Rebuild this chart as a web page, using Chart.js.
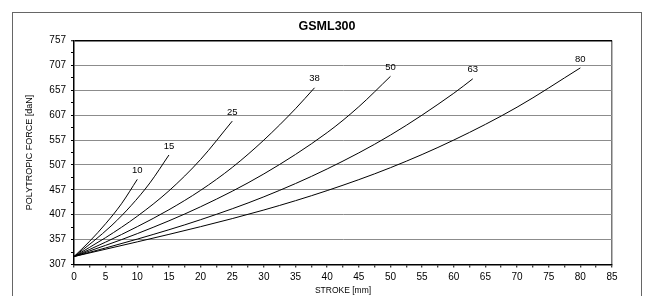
<!DOCTYPE html>
<html>
<head>
<meta charset="utf-8">
<script src="https://cdn.jsdelivr.net/npm/chart.js@4.4.1/dist/chart.umd.min.js"></script>
<style>
 body { margin:0; background:#fff; }
 #frame { position:absolute; left:12px; top:12px; width:628px; height:300px; border:1.5px solid #666; }
 #wrap { position:absolute; left:0; top:0; width:647px; height:296px; }
</style>
</head>
<body>
<div id="frame"></div>
<div id="wrap"><canvas id="myChart"></canvas></div>
<script>
 // curve names (written at the end of each curve)
 var curveNames = ["10", "15", "25", "38", "50", "63", "80"];

 // stroke [mm] / force [daN]
 var stroke10 = [0, 2.5, 5, 7.5, 10];
 var force10 = [323, 354, 389, 429, 478];
 var stroke15 = [0, 3, 6, 9, 12, 15];
 var force15 = [323, 353, 386, 425, 471, 527];
 var stroke25 = [0, 5, 10, 15, 20, 25];
 var force25 = [323, 361, 404, 455, 518, 595];
 var stroke38 = [0, 5, 10, 15, 20, 25, 30, 35, 38];
 var force38 = [323, 352, 383, 417, 456, 502, 557, 620, 662];
 var stroke50 = [0, 10, 20, 30, 40, 45, 50];
 var force50 = [323, 369, 423, 489, 572, 624, 685];
 var stroke63 = [0, 10, 20, 30, 40, 50, 60, 63];
 var force63 = [323, 358, 397, 443, 499, 567, 651, 680];
 var stroke80 = [0, 10, 20, 30, 40, 50, 60, 70, 80];
 var force80 = [323, 352.5, 383, 416.5, 455.5, 501.5, 557, 623, 702];

 var strokes = [stroke10, stroke15, stroke25, stroke38, stroke50, stroke63, stroke80];
 var forces = [force10, force15, force25, force38, force50, force63, force80];

 // axis ranges
 var xMin = 0, xMax = 85, xStep = 2.5, xLabelStep = 5;
 var yMin = 307, yMax = 757, yStep = 25, yLabelStep = 50;

 Chart.defaults.font.family = "'Liberation Sans', Arial, Helvetica, sans-serif";
 Chart.defaults.color = "#000";

 function points(xs, ys) {
 var arr = [];
 for (var i = 0; i < xs.length; i++) {
 arr.push({x: xs[i], y: ys[i]});
 }
 return arr;
 }

 var datasets = [];
 for (var i = 0; i < curveNames.length; i++) {
 datasets.push({
 label: curveNames[i],
 data: points(strokes[i], forces[i]),
 borderColor: "#000",
 borderWidth: 1,
 pointRadius: 0,
 fill: false,
 cubicInterpolationMode: "monotone"
 });
 }

 // names at the end of every curve
 var curveLabels = {
 id: "curveLabels",
 afterDatasetsDraw: function(chart) {
 var ctx = chart.ctx;
 ctx.save();
 ctx.font = "9.5px 'Liberation Sans', Arial, sans-serif";
 ctx.fillStyle = "#000";
 ctx.textAlign = "center";
 ctx.textBaseline = "middle";
 chart.data.datasets.forEach(function(ds, k) {
 var meta = chart.getDatasetMeta(k);
 var p = meta.data[meta.data.length - 1];
 ctx.fillText(ds.label, p.x, p.y - 9);
 });
 ctx.restore();
 }
 };

 new Chart("myChart", {
 type: "line",
 data: { datasets: datasets },
 plugins: [curveLabels],
 options: {
 responsive: true,
 maintainAspectRatio: false,
 animation: false,
 layout: { padding: { left: 42, right: 35, top: 0, bottom: 0 } },
 plugins: {
 legend: { display: false },
 tooltip: { enabled: false },
 title: {
 display: true,
 text: "GSML300",
 color: "#000",
 font: { size: 12.5, weight: "bold" },
 padding: { top: 19, bottom: 6.5 }
 }
 },
 scales: {
 x: {
 type: "linear",
 min: xMin,
 max: xMax,
 ticks: {
 stepSize: xStep,
 autoSkip: false,
 maxRotation: 0,
 padding: 4,
 font: { size: 10 },
 callback: function(v) { return v % xLabelStep === 0 ? v : ""; }
 },
 grid: {
 color: function(c) { return c.tick && c.tick.value === xMax ? "#777" : "transparent"; },
 lineWidth: 1.5,
 tickColor: "#000",
 tickLength: 3,
 tickWidth: 1
 },
 border: { color: "#000", width: 1.5 },
 title: { display: true, text: "STROKE [mm]", font: { size: 8.5 }, padding: 0 },
 afterFit: function(s) { s.height = 31.5; }
 },
 y: {
 type: "linear",
 min: yMin,
 max: yMax,
 ticks: {
 stepSize: yStep,
 autoSkip: false,
 padding: 5,
 font: { size: 10 },
 callback: function(v) { return (v - yMin) % yLabelStep === 0 ? v : ""; }
 },
 grid: {
 color: function(c) {
 if (!c.tick) return "transparent";
 var v = c.tick.value;
 if (v === yMax) return "#000";
 return (v - yMin) % yLabelStep === 0 ? "#8c8c8c" : "transparent";
 },
 lineWidth: function(c) { return c.tick && c.tick.value === yMax ? 1.5 : 1; },
 tickColor: "#000",
 tickLength: 3,
 tickWidth: 1
 },
 border: { color: "#000", width: 1.5 },
 title: { display: true, text: "POLYTROPIC FORCE [daN]", font: { size: 9 }, padding: { top: -17.4, bottom: 0 } },
 afterFit: function(s) { s.width = 32; }
 }
 }
 }
 });
</script>
</body>
</html>
